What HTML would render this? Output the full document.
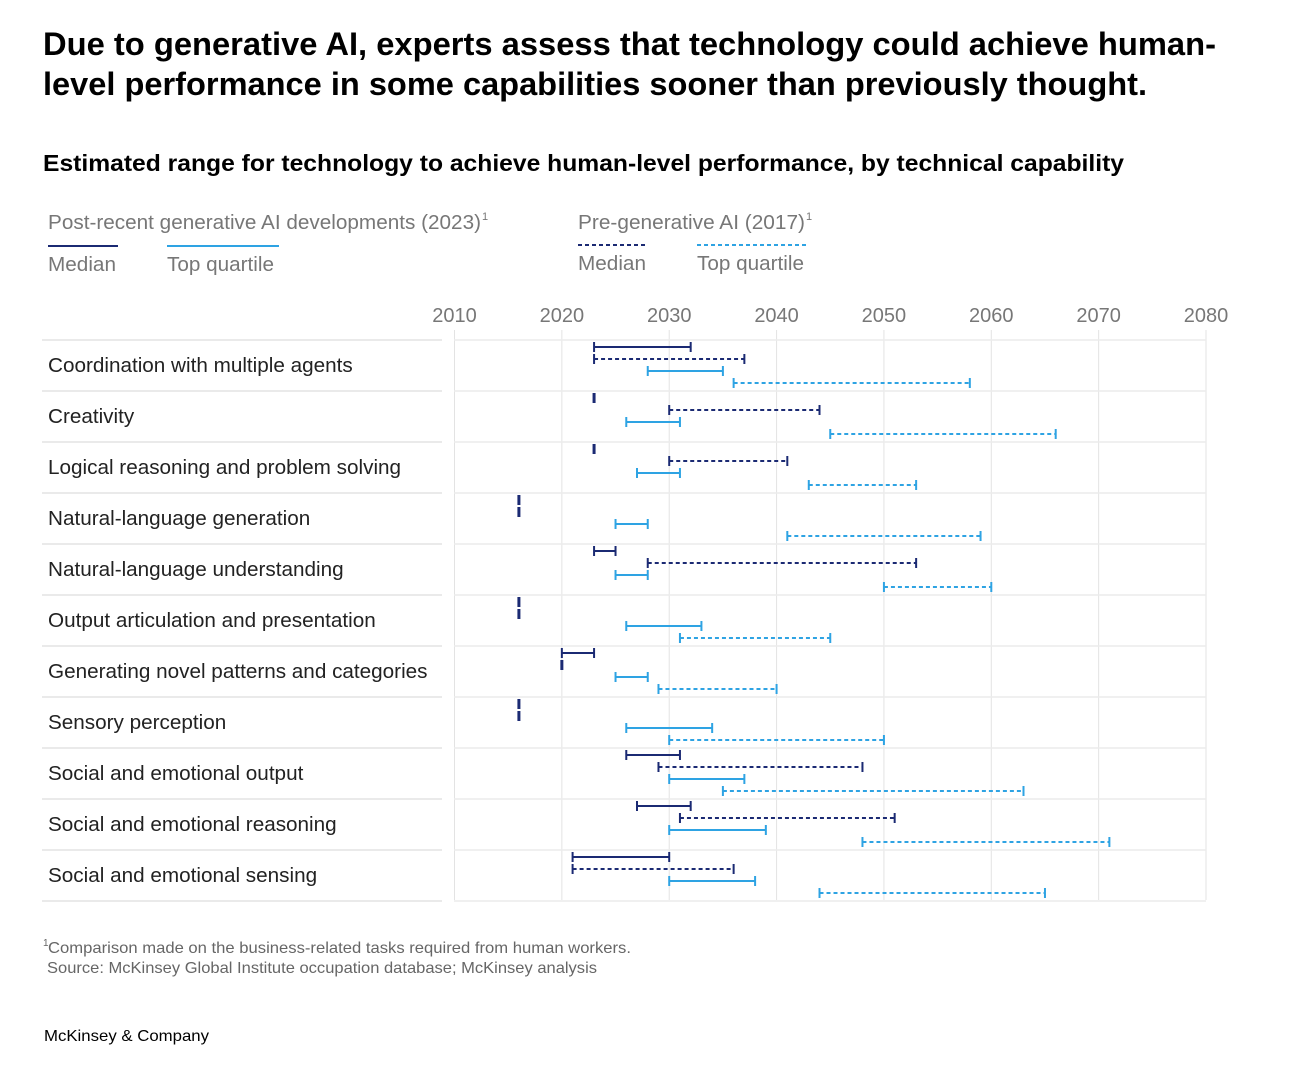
<!DOCTYPE html>
<html><head><meta charset="utf-8"><style>
html,body{margin:0;padding:0;background:#fff;width:1292px;height:1078px;overflow:hidden}
svg{display:block;font-family:"Liberation Sans",Arial,sans-serif}
</style></head><body>
<svg id="chart" width="1292" height="1078" viewBox="0 0 1292 1078">
<text x="43" y="55" font-size="32" font-weight="bold" fill="#000" textLength="1173" lengthAdjust="spacingAndGlyphs">Due to generative AI, experts assess that technology could achieve human-</text>
<text x="43" y="95" font-size="32" font-weight="bold" fill="#000" textLength="1104" lengthAdjust="spacingAndGlyphs">level performance in some capabilities sooner than previously thought.</text>
<text x="43" y="171" font-size="23" font-weight="bold" fill="#000" textLength="1081" lengthAdjust="spacingAndGlyphs">Estimated range for technology to achieve human-level performance, by technical capability</text>

<g>
<text x="48" y="229" font-size="20" fill="#777" textLength="433" lengthAdjust="spacingAndGlyphs">Post-recent generative AI developments (2023)</text>
<text x="482" y="220" font-size="11" fill="#777">1</text>
<line x1="48" y1="246" x2="118" y2="246" stroke="#1b2a73" stroke-width="2"/>
<line x1="167" y1="246" x2="279" y2="246" stroke="#2ea3e3" stroke-width="2"/>
<text x="48" y="271" font-size="20" fill="#777" textLength="68" lengthAdjust="spacingAndGlyphs">Median</text>
<text x="167" y="271" font-size="20" fill="#777" textLength="107" lengthAdjust="spacingAndGlyphs">Top quartile</text>
<text x="578" y="229" font-size="20" fill="#777" textLength="227" lengthAdjust="spacingAndGlyphs">Pre-generative AI (2017)</text>
<text x="806" y="220" font-size="11" fill="#777">1</text>
<line x1="578" y1="245" x2="648" y2="245" stroke="#1b2a73" stroke-width="2" stroke-dasharray="4,3"/>
<line x1="697" y1="245" x2="809" y2="245" stroke="#2ea3e3" stroke-width="2" stroke-dasharray="4,3"/>
<text x="578" y="270" font-size="20" fill="#777" textLength="68" lengthAdjust="spacingAndGlyphs">Median</text>
<text x="697" y="270" font-size="20" fill="#777" textLength="107" lengthAdjust="spacingAndGlyphs">Top quartile</text>
</g>
<g id="plot"></g>

<text x="43" y="946" font-size="10" fill="#666">1</text>
<text x="48" y="953" font-size="16" fill="#666" textLength="583" lengthAdjust="spacingAndGlyphs">Comparison made on the business-related tasks required from human workers.</text>
<text x="47" y="973" font-size="16" fill="#666" textLength="550" lengthAdjust="spacingAndGlyphs">Source: McKinsey Global Institute occupation database; McKinsey analysis</text>
<text x="44" y="1041" font-size="16" fill="#000" textLength="165" lengthAdjust="spacingAndGlyphs">McKinsey &amp; Company</text>
</svg>
<script>
const categories = ["Coordination with multiple agents","Creativity","Logical reasoning and problem solving","Natural-language generation","Natural-language understanding","Output articulation and presentation","Generating novel patterns and categories","Sensory perception","Social and emotional output","Social and emotional reasoning","Social and emotional sensing"];
const median2023 = [[2023,2032],[2023,2023],[2023,2023],[2016,2016],[2023,2025],[2016,2016],[2020,2023],[2016,2016],[2026,2031],[2027,2032],[2021,2030]];
const median2017 = [[2023,2037],[2030,2044],[2030,2041],[2016,2016],[2028,2053],[2016,2016],[2020,2020],[2016,2016],[2029,2048],[2031,2051],[2021,2036]];
const top2023 = [[2028,2035],[2026,2031],[2027,2031],[2025,2028],[2025,2028],[2026,2033],[2025,2028],[2026,2034],[2030,2037],[2030,2039],[2030,2038]];
const top2017 = [[2036,2058],[2045,2066],[2043,2053],[2041,2059],[2050,2060],[2031,2045],[2029,2040],[2030,2050],[2035,2063],[2048,2071],[2044,2065]];
const tickYears = [2010,2020,2030,2040,2050,2060,2070,2080];

const NS = "http://www.w3.org/2000/svg";
const plot = document.getElementById("plot");
const x = y => 454.5 + (y - 2010) * (751.5 / 70);
const rowTop = i => 340 + i * 51;
function mk(tag, attrs){const e=document.createElementNS(NS,tag);for(const k in attrs)e.setAttribute(k,attrs[k]);plot.appendChild(e);return e;}

tickYears.forEach(t=>{
  const g = mk("line",{x1:x(t),x2:x(t),y1:330,y2:900,stroke:"#e3e3e3","stroke-width":1});
  
  
  const l = mk("text",{x:x(t),y:322,"font-size":20,fill:"#777","text-anchor":"middle"});
  l.textContent = t;
  
  
});
for(let i=0;i<=categories.length;i++){
  const a = mk("line",{x1:42,x2:442,y1:rowTop(i),y2:rowTop(i),stroke:"#e3e3e3","stroke-width":1.5});
  
  
  const b = mk("line",{x1:454,x2:1206,y1:rowTop(i),y2:rowTop(i),stroke:"#ececec","stroke-width":1.5});
  
  
}
categories.forEach((c,i)=>{
  const t = mk("text",{x:48,y:rowTop(i)+32,"font-size":20.7,fill:"#222"});
  t.textContent = c;
  
  
});
const series = [
  {d:median2023,color:"#1b2a73",dash:null,off:7,name:"median-2023"},
  {d:median2017,color:"#1b2a73",dash:"4,3",off:19,name:"median-2017"},
  {d:top2023,color:"#2ea3e3",dash:null,off:31,name:"top-quartile-2023"},
  {d:top2017,color:"#2ea3e3",dash:"4,3",off:43,name:"top-quartile-2017"}
];
series.forEach(s=>{
  s.d.forEach((r,i)=>{
    const y = rowTop(i)+s.off;
    const x1 = x(r[0]), x2 = x(r[1]);
    if (r[1] > r[0]) {
      const ln = mk("line",{x1:x1,x2:x2,y1:y,y2:y,stroke:s.color,"stroke-width":2});
      if (s.dash) ln.setAttribute("stroke-dasharray",s.dash);
      
      
      [x1,x2].forEach(xx=>{
        const tk = mk("line",{x1:xx,x2:xx,y1:y-5,y2:y+5,stroke:s.color,"stroke-width":2});
        
        
      });
    } else {
      const pt = mk("rect",{x:x1-1.5,y:y-5,width:3,height:10,fill:s.color});
      
      
    }
  });
});
</script>
</body></html>
